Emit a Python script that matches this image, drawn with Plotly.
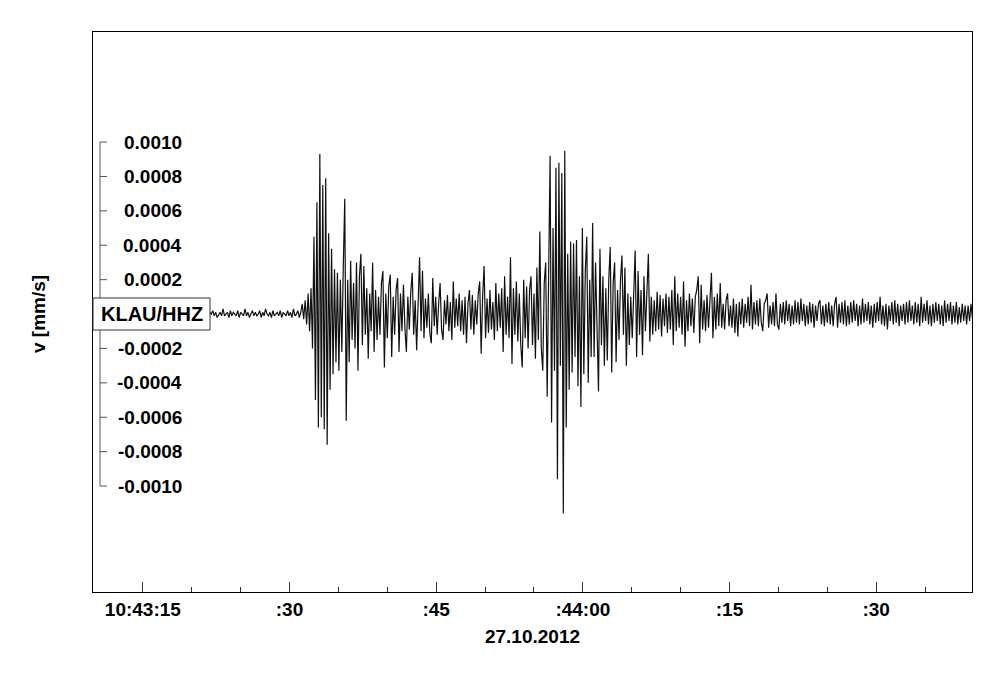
import numpy as np
import pandas as pd
import plotly.graph_objects as go

# ---------------- data (velocity in units of 1e-5 mm/s) ----------------
noise_pre = [1,-1,2,-1,0,1,-2,1,0,-1,2,-1,1,0,-2,1,-1,2,0,-1,
             1,-2,1,0,2,-1,1,-1,0,2,-2,1,0,-1,1,2,-1,0,1,-2,
             0,1,-1,2,-1,0,1,-2,2,-1,1,0,-1,1,-2,1,0,2,-1,1,
             -1,0,2,-2,1,-1,0,1,-1,2,0,-2,1,-1,2,-1,0,1,-2,1,
             0,2,-1,1,-2,0,1,-1,3,-1,0,1,-2,2,-1,1,0,-1,2,-2,
             1,0,-1,3,-1,1,-2,0,2,-1,1,-1,0,2,-2,1,-1,3,0,-1,
             1,-2,2,-1,0,1,-1,2,-2,1,0,-1,2,-1,1,-2,3,-1,0,2,-2,1]
first_arrival = [6,-3,8,-6,12,-10,15,-20,45,-50,65,-66,
                 93,-60,75,-67,79,-76,47,-44,38,-35,26,-28,24,-33,20,-22,28,67,-62,20,
                 -28,31,-15,18,-20,30,-33,22,35,-18,28,-12,15,-26,12,-10,30,-22,14,-15,
                 10,-12,18,25,-31,12,-14,16,23,-25,10,-12,14,21,-22]
coda_1 = [12,-10,17,-8,-22,10,-9,13,24,-12,8,-21,12,33,-10,25,-14,9,-8,12,
          -11,-17,21,-7,10,-12,6,18,-9,-15,8,-6,11,-10,7,-15,19,-8,9,-7,
          12,-10,8,-12,
          10,-17,6,14,-9,11,-12,8,-6,12,19,-23,10,28,-14,9,-11,14,-9,7,
          -15,18,-10,12,-8,15,-22,22,-12,10,-14,33,-29,15,-12,19,-16,12,-18,-31,
          20,-14,16,-20,14,22,-18,12,-26,27,-15,48,-20,-33,18,30]
second_event = [-48,40,92,-63,50,-33,85,-96,88,-30,82,-116,95,-66,35,-44,42,-34,41,-25,
                43,-42,22,-54,50,-35,25,45,-40,20,-25,53,
                -25,30,-20,-45,38,-18,22,-30,15,-27,20,39,-34,18,30,-28,14,-15,20,34,
                -12,27,-30,12,-18,10,-14,20,37,-25,25]
coda_2 = [-12,14,-24,22,-10,12,35,-16,10,-12,8,-10,13,-9,11,-13,9,-7,12,-11,
          10,-9,14,-18,22,-10,12,-8,10,-12,19,-19,8,-10,12,-7,9,-11,10,14,
          22,-17,17,-9,8,-10,11,-8,9,24,-14,10,-9,12,-7,
          18,-8,6,-9,8,12,-7,5,-8,9,-11,6,-13,7,-6,9,-8,6,-5,10,
          -7,17,-9,7,-6,8,-7,9,-5,-10,6,8,12,-8,5,-6,7,-7,12,-6,
          -9,6,-5,7,-6,8,-4,6,-7,5,-6,8,-5,7,-6,9,-4,6,-7,5,
          -6,7,-5,6,-8,5,-4,6,8,-6,5,-7,6,-5,7,-6,5,-7,6,10,
          -8,6,-5,7,-6,8,-7,5]
tail = [-6,7,-5,8,-4,6,-7,5,-6,9,-5,6,-4,7,-6,5,-8,6,-5,7,
        -4,10,-6,5,-7,6,-9,5,-4,7,-6,8,-5,6,-7,5,-4,6,-6,7,
        -5,8,-4,5,-6,7,-5,6,-7,10,-5,6,-4,8,-6,5,-7,6,-5,7,
        -4,6,-6,5,-7,8,-5,6,-4,7,-6,5,-5,7,-6,4,-5,6,-4,5,
        -6,5,-4,6,-3]

trace_start = "2012-10-27 10:43:10.00"
sample_interval_s = 0.15
station = "KLAU/HHZ"

x_range = ["2012-10-27 10:43:09.9", "2012-10-27 10:44:39.8"]
x_tickvals = ["2012-10-27 10:43:15", "2012-10-27 10:43:30", "2012-10-27 10:43:45",
              "2012-10-27 10:44:00", "2012-10-27 10:44:15", "2012-10-27 10:44:30"]
x_ticktext = ["10:43:15", ":30", ":45", ":44:00", ":15", ":30"]
y_tickvals = [0.0010, 0.0008, 0.0006, 0.0004, 0.0002,
              -0.0002, -0.0004, -0.0006, -0.0008, -0.0010]
y_range = [-0.001616, 0.00164]

# ---------------- build ----------------
vel = np.array(noise_pre + first_arrival + coda_1 + second_event + coda_2 + tail) * 1e-5
times = pd.Timestamp(trace_start) + pd.to_timedelta(np.arange(len(vel)) * sample_interval_s, unit="s")

FONT = "Liberation Sans, Arial, sans-serif"
FS = 19
bold = dict(family=FONT, size=FS, color="black", weight="bold")

# page body has an 8px margin; lay out in reference-pixel coordinates minus that
OFF = 8
W, H = 1000 - OFF, 677 - OFF
ML, MT = 93 - OFF, 32 - OFF
PW, PH = 879, 560
MR, MB = W - ML - PW, H - MT - PH


def px_x(px):  # reference pixel x -> paper
    return (px - OFF - ML) / PW


def px_y(py):  # reference pixel y -> paper
    return (MT + PH - (py - OFF)) / PH


fig = go.Figure()
fig.add_trace(go.Scatter(x=times, y=vel, mode="lines",
                         line=dict(color="#111111", width=1.2), showlegend=False,
                         hoverinfo="skip"))

shapes = []
annotations = []
bx, tx = px_x(100), px_x(107)
shapes.append(dict(type="line", xref="paper", yref="y", x0=bx, x1=bx,
                   y0=min(y_tickvals), y1=max(y_tickvals),
                   line=dict(color="#555555", width=1)))
for v in y_tickvals:
    shapes.append(dict(type="line", xref="paper", yref="y", x0=bx, x1=tx, y0=v, y1=v,
                       line=dict(color="#555555", width=1)))
    annotations.append(dict(xref="paper", yref="y", x=px_x(184), y=v,
                            xanchor="right", yanchor="middle", showarrow=False,
                            text=f"{v:.4f}", font=bold))

# station label box
shapes.append(dict(type="rect", xref="paper", yref="paper", layer="above",
                   x0=0, x1=px_x(210), y0=px_y(330), y1=px_y(298),
                   fillcolor="white", line=dict(color="#333333", width=1)))
annotations.append(dict(xref="paper", yref="y", x=px_x(152), y=0.0,
                        xanchor="center", yanchor="middle", showarrow=False,
                        text=station, font=dict(bold, size=20)))
annotations.append(dict(xref="paper", yref="paper", x=px_x(38), y=px_y(314),
                        xanchor="center", yanchor="middle", showarrow=False,
                        text="v [mm/s]", textangle=-90, font=bold))

fig.update_layout(
    width=W, height=H,
    margin=dict(l=ML, r=MR, t=MT, b=MB, pad=0),
    paper_bgcolor="white", plot_bgcolor="white",
    font=bold,
    shapes=shapes, annotations=annotations,
    xaxis=dict(type="date", range=x_range, showgrid=False, zeroline=False,
               showline=True, linecolor="black", linewidth=1, mirror=True,
               tickmode="array", tickvals=x_tickvals, ticktext=x_ticktext,
               ticks="inside", ticklen=10, tickcolor="#333333", tickwidth=1,
               ticklabelstandoff=0, tickfont=bold,
               minor=dict(ticks="inside", ticklen=5, tickcolor="#333333",
                          dtick=5000, tick0="2012-10-27 10:43:00", showgrid=False),
               title=dict(text="27.10.2012", standoff=10, font=bold)),
    yaxis=dict(range=y_range, showgrid=False, zeroline=False, showticklabels=False,
               ticks="", showline=True, linecolor="black", linewidth=1, mirror=True),
)

fig.write_html("out.html")
